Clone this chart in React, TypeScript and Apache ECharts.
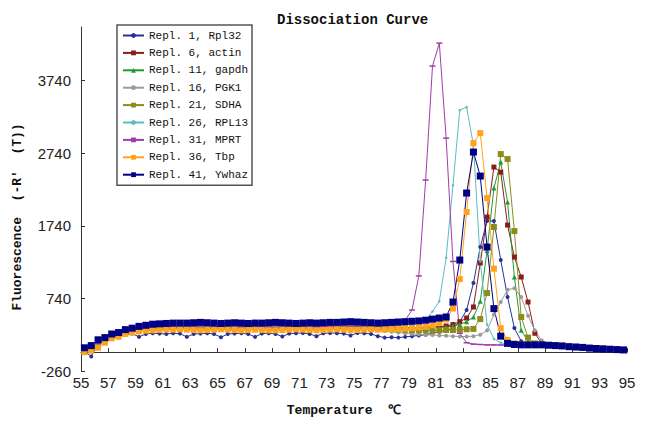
import { useEffect, useRef } from "react";
import * as echarts from "echarts";

// Temperatures (°C) of each reading
const temps = [
  55.25, 55.75, 56.25, 56.75, 57.25, 57.75, 58.25, 58.75, 59.25, 59.75,
  60.25, 60.75, 61.25, 61.75, 62.25, 62.75, 63.25, 63.75, 64.25, 64.75,
  65.25, 65.75, 66.25, 66.75, 67.25, 67.75, 68.25, 68.75, 69.25, 69.75,
  70.25, 70.75, 71.25, 71.75, 72.25, 72.75, 73.25, 73.75, 74.25, 74.75,
  75.25, 75.75, 76.25, 76.75, 77.25, 77.75, 78.25, 78.75, 79.25, 79.75,
  80.25, 80.75, 81.25, 81.75, 82.25, 82.75, 83.25, 83.75, 84.25, 84.75,
  85.25, 85.75, 86.25, 86.75, 87.25, 87.75, 88.25, 88.75, 89.25, 89.75,
  90.25, 90.75, 91.25, 91.75, 92.25, 92.75, 93.25, 93.75, 94.25, 94.75,
];

const seriesNames = [
  "Repl. 1, Rpl32",
  "Repl. 6, actin",
  "Repl. 11, gapdh",
  "Repl. 16, PGK1",
  "Repl. 21, SDHA",
  "Repl. 26, RPL13",
  "Repl. 31, MPRT",
  "Repl. 36, Tbp",
  "Repl. 41, Ywhaz",
];

const rpl32 = [
  10, -60, 120, 160, 200, 230, 240, 255, 210, 250,
  260, 255, 250, 260, 255, 210, 250, 255, 260, 250,
  205, 250, 255, 260, 250, 210, 255, 260, 250, 215,
  255, 260, 265, 250, 220, 260, 265, 260, 255, 230,
  265, 260, 250, 220, 200, 205, 200, 210, 220, 230,
  240, 260, 280, 300, 330, 420, 580, 952, 1448, 1808,
  1806, 1269, 759, 332, 150, 100, 95, 92, 90, 86,
  81, 76, 70, 64, 57, 51, 46, 41, 36, 31,
];

const actin = [
  20, 40, 110, 160, 220, 240, 280, 300, 320, 330,
  340, 345, 345, 350, 345, 340, 345, 350, 345, 340,
  345, 350, 345, 340, 345, 350, 355, 350, 345, 350,
  355, 350, 345, 350, 355, 350, 355, 360, 360, 365,
  360, 355, 350, 345, 345, 340, 340, 335, 335, 340,
  340, 345, 350, 360, 380, 420, 470, 622, 1228, 1861,
  2550, 2480, 1751, 1310, 1035, 690, 260, 120, 100, 92,
  86, 79, 73, 66, 59, 53, 47, 42, 37, 32,
];

const gapdh = [
  30, 50, 120, 170, 230, 250, 290, 310, 330, 340,
  345, 350, 355, 350, 345, 350, 355, 350, 345, 350,
  355, 360, 350, 345, 350, 420, 350, 345, 350, 355,
  360, 365, 360, 355, 350, 355, 360, 365, 370, 430,
  375, 365, 355, 350, 345, 345, 340, 335, 335, 330,
  330, 335, 340, 345, 360, 380, 420, 484, 700, 1400,
  2260, 2619, 2068, 1035, 300, 150, 110, 100, 96, 90,
  84, 77, 71, 64, 57, 51, 46, 41, 36, 31,
];

const pgk1 = [
  10, 30, 100, 150, 210, 230, 270, 290, 305, 315,
  320, 325, 330, 325, 320, 325, 330, 325, 320, 325,
  330, 325, 320, 325, 330, 335, 330, 325, 320, 325,
  330, 335, 330, 325, 330, 335, 330, 325, 330, 335,
  330, 320, 310, 300, 290, 280, 270, 260, 250, 245,
  240, 235, 230, 225, 220, 215, 215, 220, 240, 300,
  520, 690, 860, 880, 760, 500, 300, 160, 110, 95,
  88, 80, 74, 67, 60, 54, 48, 43, 38, 33,
];

const sdha = [
  25, 45, 115, 165, 225, 245, 285, 305, 320, 330,
  335, 340, 345, 340, 335, 340, 345, 340, 335, 340,
  345, 340, 335, 340, 345, 350, 345, 340, 335, 340,
  345, 350, 345, 340, 345, 350, 345, 340, 345, 350,
  345, 340, 335, 330, 325, 320, 315, 310, 305, 300,
  300, 300, 300, 305, 305, 310, 315, 320, 456, 814,
  1724, 2729, 2660, 1668, 484, 200, 120, 105, 98, 92,
  86, 79, 73, 66, 59, 53, 47, 42, 37, 32,
];

const rpl13 = [
  35, 55, 125, 175, 235, 255, 295, 315, 330, 340,
  345, 350, 355, 350, 345, 350, 355, 350, 345, 350,
  355, 360, 355, 350, 355, 360, 355, 350, 355, 360,
  365, 360, 355, 360, 365, 370, 375, 380, 385, 390,
  380, 370, 365, 360, 360, 365, 370, 380, 395, 420,
  450, 560, 700, 1300, 2300, 3335, 3376, 2850, 1250, 380,
  180, 130, 110, 102, 98, 95, 92, 90, 88, 85,
  80, 75, 70, 64, 58, 52, 47, 42, 37, 32,
];

const mprt = [
  30, 50, 120, 170, 230, 250, 290, 310, 325, 335,
  340, 345, 350, 345, 340, 345, 350, 345, 340, 345,
  350, 345, 340, 345, 350, 355, 350, 345, 340, 345,
  350, 355, 350, 345, 350, 355, 350, 355, 360, 365,
  360, 355, 355, 360, 370, 380, 400, 442, 580, 1050,
  2371, 3941, 4258, 2949, 1250, 260, 130, 110, 105, 100,
  100, 98, 97, 96, 95, 94, 93, 92, 90, 87,
  83, 78, 72, 66, 59, 53, 47, 42, 37, 32,
];

const tbp = [
  0, 20, 60, 130, 190, 210, 250, 270, 285, 295,
  300, 305, 310, 310, 315, 310, 305, 300, 305, 310,
  315, 310, 305, 300, 305, 310, 305, 300, 300, 305,
  310, 315, 310, 305, 300, 305, 310, 315, 310, 305,
  305, 310, 315, 310, 310, 315, 320, 325, 330, 340,
  350, 370, 400, 450, 600, 1007, 1930, 2880, 3018, 2123,
  1150, 330, 167, 120, 105, 100, 100, 100, 98, 92,
  86, 78, 72, 66, 58, 52, 47, 42, 37, 32,
];

const ywhaz = [
  60, 90, 170, 200, 250, 270, 310, 330, 355, 370,
  385, 390, 395, 400, 400, 400, 405, 410, 405, 400,
  395, 400, 405, 400, 395, 400, 400, 405, 410, 405,
  400, 395, 400, 405, 400, 405, 410, 410, 415, 420,
  415, 410, 405, 400, 405, 410, 415, 420, 425, 430,
  440, 455, 470, 484, 690, 1269, 2192, 2757, 2426, 1448,
  600, 220, 120, 105, 100, 100, 100, 100, 95, 90,
  85, 75, 70, 65, 55, 50, 45, 40, 35, 30,
];

const seriesValues = [rpl32, actin, gapdh, pgk1, sdha, rpl13, mprt, tbp, ywhaz];

const xTickLabels = [55, 57, 59, 61, 63, 65, 67, 69, 71, 73, 75, 77, 79, 81, 83, 85, 87, 89, 91, 93, 95];
const yTickLabels = [-260, 740, 1740, 2740, 3740];

const seriesStyles: { color: string; symbol: string; size: number | number[] }[] = [
  { color: "#26329a", symbol: "circle", size: 4 },
  { color: "#8b1c1c", symbol: "rect", size: 5 },
  { color: "#1f9a35", symbol: "triangle", size: 5 },
  { color: "#9a9a9a", symbol: "circle", size: 4 },
  { color: "#8c8c1a", symbol: "rect", size: 6 },
  { color: "#5cbcbc", symbol: "circle", size: 2.5 },
  { color: "#a03ca8", symbol: "rect", size: [6, 1.5] },
  { color: "#ffa31a", symbol: "rect", size: 6 },
  { color: "#000085", symbol: "rect", size: 7 },
];

export default function App() {
  const ref = useRef<HTMLDivElement>(null);
  useEffect(() => {
    if (!ref.current) return;
    const chart = echarts.init(ref.current, undefined, { renderer: "svg" });
    const mono = "'Liberation Mono', 'DejaVu Sans Mono', monospace";
    const sans = "'Liberation Sans', Arial, sans-serif";
    chart.setOption({
      animation: false,
      backgroundColor: "#ffffff",
      title: {
        text: "Dissociation Curve",
        left: 272,
        top: 8,
        textStyle: { fontFamily: mono, fontSize: 14, fontWeight: "bold", color: "#111" },
      },
      legend: {
        orient: "vertical",
        left: 117,
        top: 25,
        padding: [5, 4, 5, 5],
        itemGap: 6.4,
        itemWidth: 21,
        itemHeight: 6,
        borderColor: "#555",
        borderWidth: 1.5,
        backgroundColor: "#fff",
        textStyle: { fontFamily: mono, fontSize: 11, lineHeight: 11, color: "#111" },
        data: seriesNames,
      },
      grid: { left: 81, right: 19, top: 27, bottom: 52, containLabel: false },
      xAxis: {
        type: "value",
        min: xTickLabels[0],
        max: xTickLabels[xTickLabels.length - 1],
        interval: 2,
        axisLine: { lineStyle: { color: "#333", width: 1 } },
        axisTick: { inside: true, length: 4, lineStyle: { color: "#333" } },
        axisLabel: {
          fontFamily: sans,
          fontSize: 15,
          color: "#222",
          margin: 4,
          formatter: (v: number) => String(v),
        },
        splitLine: { show: false },
      },
      yAxis: {
        type: "value",
        min: yTickLabels[0],
        max: 4480,
        interval: 1000,
        axisLine: { show: true, lineStyle: { color: "#333", width: 1 } },
        axisTick: { show: true, inside: true, length: 4, lineStyle: { color: "#333" }, customValues: yTickLabels },
        axisLabel: {
          fontFamily: sans,
          fontSize: 15,
          color: "#222",
          margin: 10,
          customValues: yTickLabels,
          formatter: (v: number) => String(v),
        },
        splitLine: { show: false },
      },
      graphic: [
        {
          type: "text",
          x: 17,
          y: 217,
          rotation: Math.PI / 2,
          style: {
            text: "Fluorescence  (-R'  (T))",
            fontFamily: mono,
            fontSize: 13,
            fontWeight: "bold",
            fill: "#111",
            textAlign: "center",
            textVerticalAlign: "middle",
          },
        },
        {
          type: "text",
          x: 344,
          y: 410,
          style: {
            text: "Temperature  ℃",
            fontFamily: mono,
            fontSize: 13,
            fontWeight: "bold",
            fill: "#111",
            textAlign: "center",
            textVerticalAlign: "middle",
          },
        },
      ],
      series: seriesNames.map((name, i) => ({
        name,
        type: "line",
        data: temps.map((t, k) => [t, seriesValues[i][k]]),
        symbol: seriesStyles[i].symbol,
        symbolSize: seriesStyles[i].size,
        showAllSymbol: true,
        lineStyle: { color: seriesStyles[i].color, width: 1 },
        itemStyle: { color: seriesStyles[i].color },
        emphasis: { disabled: true },
      })),
    });
    return () => chart.dispose();
  }, []);
  return (
    <div
      ref={ref}
      style={{ position: "fixed", left: 0, top: 0, width: 646, height: 423, background: "#fff" }}
    />
  );
}
